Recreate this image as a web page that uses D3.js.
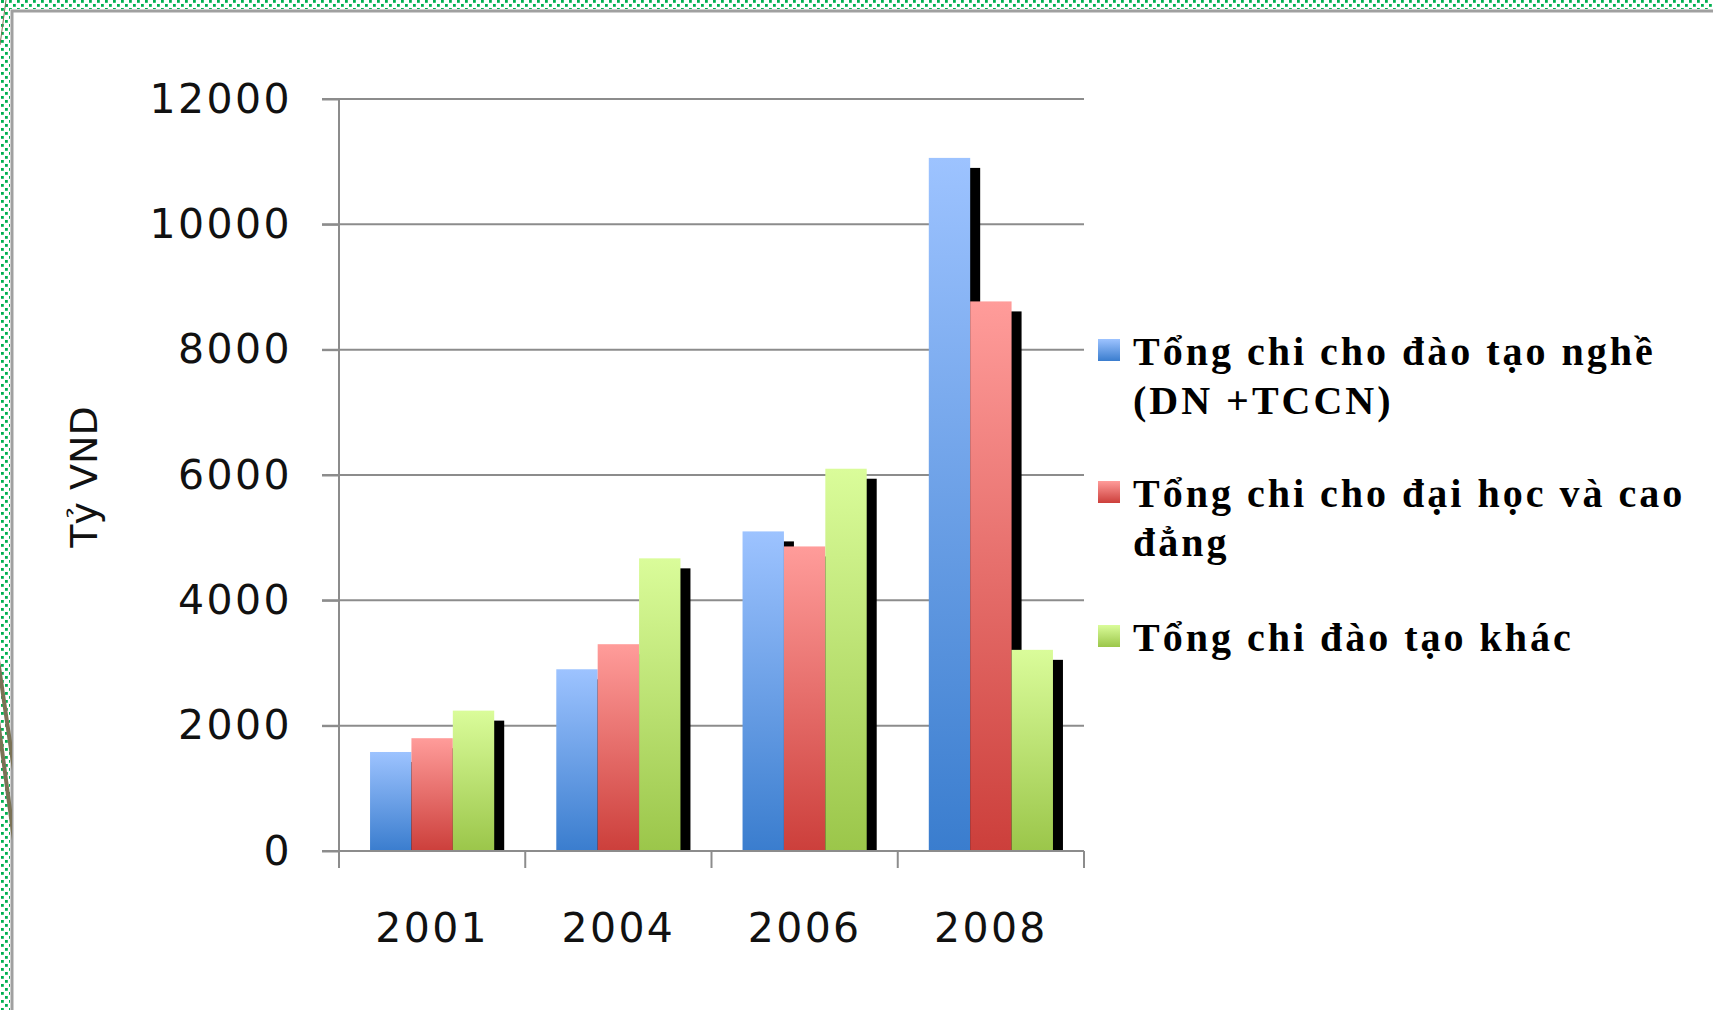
<!DOCTYPE html>
<html>
<head>
<meta charset="utf-8">
<script src="https://cdn.jsdelivr.net/npm/d3@7"></script>
<style>
    html, body { margin: 0; padding: 0; background: #fff; }
    svg { display: block; }
</style>
</head>
<body>
<svg id="chart"></svg>
<script>
    'use strict';

    var years = ['2001', '2004', '2006', '2008'];
    var seriesNames = [
        ['Tổng chi cho đào tạo nghề', '(DN +TCCN)'],
        ['Tổng chi cho đại học và cao', 'đẳng'],
        ['Tổng chi đào tạo khác']
    ];
    var ngheValues = [1580, 2900, 5100, 11060];
    var daihocValues = [1800, 3300, 4860, 8770];
    var khacValues = [2240, 4670, 6100, 3210];
    var yTicks = [0, 2000, 4000, 6000, 8000, 10000, 12000];
    var yTitle = 'Tỷ VND';

    var width = 1713;
    var height = 1010;
    var plot = { left: 339, right: 1084, top: 99, bottom: 851 };
    var gradColors = [
        ['#9dc3ff', '#3a7dce'],
        ['#ff9c9a', '#cc3f3b'],
        ['#dafc9a', '#9bc64a']
    ];

    var svg = d3.select('#chart')
        .attr('width', width)
        .attr('height', height);

    var defs = svg.append('defs');

    // dotted green slide frame
    var pat = defs.append('pattern')
        .attr('id', 'dots')
        .attr('width', 8)
        .attr('height', 8)
        .attr('patternUnits', 'userSpaceOnUse');
    pat.append('rect').attr('x', 1).attr('y', 0).attr('width', 2.8).attr('height', 2.8).attr('fill', '#00b050');
    pat.append('rect').attr('x', 5).attr('y', 4).attr('width', 2.8).attr('height', 2.8).attr('fill', '#00b050');

    gradColors.forEach(function(c, i) {
        var g = defs.append('linearGradient')
            .attr('id', 'grad' + i)
            .attr('x1', 0).attr('y1', 0).attr('x2', 0).attr('y2', 1);
        g.append('stop').attr('offset', '0%').attr('stop-color', c[0]);
        g.append('stop').attr('offset', '100%').attr('stop-color', c[1]);
    });

    svg.append('rect').attr('width', width).attr('height', height).attr('fill', '#fff');
    svg.append('rect').attr('x', 0).attr('y', 0).attr('width', width).attr('height', 9).attr('fill', 'url(#dots)');
    svg.append('rect').attr('x', 0).attr('y', 0).attr('width', 10).attr('height', height).attr('fill', 'url(#dots)');
    svg.append('path')
        .attr('d', 'M12,1010 V11 H1713')
        .attr('fill', 'none')
        .attr('stroke', '#a0a0a0')
        .attr('stroke-width', 3);

    // brown strokes poking in at the left edge
    var clip = defs.append('clipPath').attr('id', 'leftclip');
    clip.append('rect').attr('x', 0).attr('y', 0).attr('width', 12).attr('height', height);
    var deco = svg.append('g').attr('clip-path', 'url(#leftclip)')
        .attr('stroke', '#7b7256').attr('fill', 'none');
    deco.append('line').attr('x1', -2).attr('y1', 660).attr('x2', 14).attr('y2', 770).attr('stroke-width', 4);
    deco.append('line').attr('x1', -2).attr('y1', 720).attr('x2', 14).attr('y2', 840).attr('stroke-width', 4);
    deco.append('line').attr('x1', 6).attr('y1', 0).attr('x2', 0).attr('y2', 45).attr('stroke-width', 1);

    var x = d3.scaleBand()
        .domain(years)
        .range([plot.left, plot.right]);

    var xs = d3.scaleBand()
        .domain([0, 1, 2])
        .range([0, x.bandwidth()])
        .paddingInner(0)
        .paddingOuter(0.75);

    var y = d3.scaleLinear()
        .domain([0, 12000])
        .range([plot.bottom, plot.top]);

    var chart = svg.append('g');

    // gridlines
    chart.append('g').selectAll('line')
        .data(yTicks.slice(1))
        .enter()
        .append('line')
        .attr('x1', plot.left - 17)
        .attr('x2', plot.right)
        .attr('y1', function(d) { return y(d); })
        .attr('y2', function(d) { return y(d); })
        .attr('stroke', '#8c8c8c')
        .attr('stroke-width', 2);

    var allSeries = [ngheValues, daihocValues, khacValues];
    var bars = [];
    allSeries.forEach(function(vals, s) {
        vals.forEach(function(v, i) {
            bars.push({ s: s, year: years[i], value: v });
        });
    });

    var shadowOff = 10;

    chart.append('g').selectAll('rect')
        .data(bars)
        .enter()
        .append('rect')
        .attr('x', function(d) { return x(d.year) + xs(d.s) + shadowOff; })
        .attr('y', function(d) { return y(d.value) + shadowOff; })
        .attr('width', xs.bandwidth())
        .attr('height', function(d) { return plot.bottom - y(d.value) - shadowOff; })
        .attr('fill', '#000');

    chart.append('g').selectAll('rect')
        .data(bars)
        .enter()
        .append('rect')
        .attr('x', function(d) { return x(d.year) + xs(d.s); })
        .attr('y', function(d) { return y(d.value); })
        .attr('width', xs.bandwidth())
        .attr('height', function(d) { return plot.bottom - y(d.value); })
        .attr('fill', function(d) { return 'url(#grad' + d.s + ')'; });

    // y axis
    var yAxis = chart.append('g')
        .attr('transform', 'translate(' + plot.left + ',0)')
        .call(d3.axisLeft(y).tickValues(yTicks).tickSize(17).tickPadding(30).tickFormat(d3.format('d')));
    yAxis.select('.domain').remove();
    yAxis.selectAll('line').attr('stroke', '#8c8c8c').attr('stroke-width', 2);
    yAxis.selectAll('text')
        .attr('font-family', 'DejaVu Sans')
        .attr('font-size', 41)
        .attr('letter-spacing', 2.4)
        .attr('fill', '#111');

    chart.append('line')
        .attr('x1', plot.left).attr('x2', plot.left)
        .attr('y1', plot.top).attr('y2', plot.bottom)
        .attr('stroke', '#8c8c8c').attr('stroke-width', 2);

    // x axis
    var xAxis = chart.append('g')
        .attr('transform', 'translate(0,' + plot.bottom + ')')
        .call(d3.axisBottom(x).tickSize(0).tickPadding(62));
    xAxis.select('.domain').remove();
    xAxis.selectAll('text')
        .attr('font-family', 'DejaVu Sans')
        .attr('font-size', 41)
        .attr('letter-spacing', 2.4)
        .attr('fill', '#111');

    chart.append('line')
        .attr('x1', plot.left - 17).attr('x2', plot.right)
        .attr('y1', plot.bottom).attr('y2', plot.bottom)
        .attr('stroke', '#8c8c8c').attr('stroke-width', 2);

    chart.append('g').selectAll('line')
        .data(years.map(function(d) { return x(d); }).concat([plot.right]))
        .enter()
        .append('line')
        .attr('x1', function(d) { return d; })
        .attr('x2', function(d) { return d; })
        .attr('y1', plot.bottom)
        .attr('y2', plot.bottom + 17)
        .attr('stroke', '#8c8c8c')
        .attr('stroke-width', 2);

    svg.append('text')
        .attr('transform', 'translate(97,477) rotate(-90)')
        .attr('text-anchor', 'middle')
        .attr('font-family', 'DejaVu Sans')
        .attr('font-size', 38)
        .attr('fill', '#111')
        .text(yTitle);

    // legend
    var legendTop = [365, 507, 651];
    var legend = svg.append('g').selectAll('g')
        .data(seriesNames)
        .enter()
        .append('g')
        .attr('transform', function(d, i) { return 'translate(1098,' + legendTop[i] + ')'; });

    legend.append('rect')
        .attr('x', 0)
        .attr('y', -26)
        .attr('width', 22)
        .attr('height', 22)
        .attr('fill', function(d, i) { return 'url(#grad' + i + ')'; });

    legend.append('text')
        .attr('x', 35)
        .attr('font-family', 'Liberation Serif')
        .attr('font-weight', 'bold')
        .attr('font-size', 40)
        .attr('letter-spacing', 3)
        .attr('fill', '#000')
        .selectAll('tspan')
        .data(function(d) { return d; })
        .enter()
        .append('tspan')
        .attr('x', 35)
        .attr('dy', function(d, i) { return i === 0 ? 0 : 49; })
        .text(function(d) { return d; });
</script>
</body>
</html>
